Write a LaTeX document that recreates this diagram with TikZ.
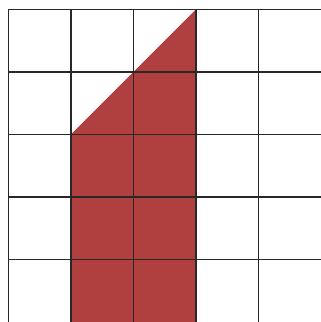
\documentclass[tikz,border=0pt]{standalone}
\definecolor{regionred}{RGB}{176,64,64}
\definecolor{gridline}{RGB}{40,40,40}
\tikzset{gridstroke/.style={draw=gridline,line width=1.7pt}}
\begin{document}
\begin{tikzpicture}[x=1pt,y=1pt]
\useasboundingbox (0,0) rectangle (321,322);
\fill[white] (0,0) rectangle (321,322);
% red region, cell size 62.5, origin at (8.5,0)
\fill[fill=regionred] (8.5+62.5,0) -- (8.5+62.5,187.5) -- (8.5+187.5,312.5) -- (8.5+187.5,0) -- cycle;
\foreach \i in {0,...,4} {
  \draw[gridstroke] (8.5+62.5*\i,0) -- (8.5+62.5*\i,312.5);
}
\foreach \j in {1,...,5} {
  \draw[gridstroke] (8.5,62.5*\j) -- (321,62.5*\j);
}
\end{tikzpicture}
\end{document}
